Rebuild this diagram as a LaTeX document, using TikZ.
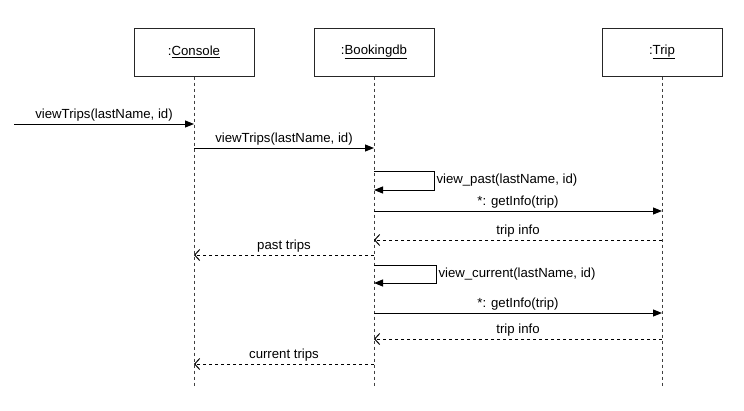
\documentclass[tikz,border=0pt]{standalone}
\usepackage{fontspec}
\setmainfont{Liberation Sans}
\usetikzlibrary{arrows.meta}

\begin{document}
\begin{tikzpicture}
          [x=1pt,y=-1pt,font=\fontsize{13.2}{15}\selectfont,
           obj/.style={draw=black!85,line width=1pt,minimum width=120pt,minimum height=48pt,inner sep=0pt},
           life/.style={draw=black!75,line width=1pt,dash pattern=on 3pt off 3pt},
           call/.style={line width=1pt,-{Triangle[length=9pt,width=7pt]}},
           reply/.style={line width=1pt,dash pattern=on 3pt off 3pt,-{Straight Barb[length=5pt,width=11pt]}},
           msg/.style={above,inner sep=2pt}]

          \useasboundingbox (0,0) rectangle (744,410);

          \node[obj] (con) at (194,52) {:\underline{Console}};
          \node[obj] (db) at (374,52) {:\underline{Bookingdb}};
          \node[obj] (trip) at (662,52) {:\underline{Trip}};

          \draw[life] (con) -- (con |- 0,388);
          \draw[life] (db) -- (db |- 0,388);
          \draw[life] (trip) -- (trip |- 0,388);

          \coordinate (start) at (14,124);
          \draw[call] (start) -- node[msg] {viewTrips(lastName, id)} (con |- start);
          \draw[call] (con |- 0,148) -- node[msg] {viewTrips(lastName, id)} (db |- 0,148);

          \draw[call] (db |- 0,171) -- ++(60,0) |- node[pos=0.25,right,inner sep=2pt] {view\_past(lastName, id)} (db |- 0,190);
          \draw[call] (db |- 0,211) -- node[msg] {*: getInfo(trip)} (trip |- 0,211);
          \draw[reply] (trip |- 0,240) -- node[msg] {trip info} (db |- 0,240);
          \draw[reply] (db |- 0,255) -- node[msg] {past trips} (con |- 0,255);

          \draw[call] (db |- 0,265) -- ++(62,0) |- node[pos=0.25,right,inner sep=2pt] {view\_current(lastName, id)} (db |- 0,283);
          \draw[call] (db |- 0,313) -- node[msg] {*: getInfo(trip)} (trip |- 0,313);
          \draw[reply] (trip |- 0,339) -- node[msg] {trip info} (db |- 0,339);
          \draw[reply] (db |- 0,364) -- node[msg] {current trips} (con |- 0,364);
        \end{tikzpicture}
\end{document}
